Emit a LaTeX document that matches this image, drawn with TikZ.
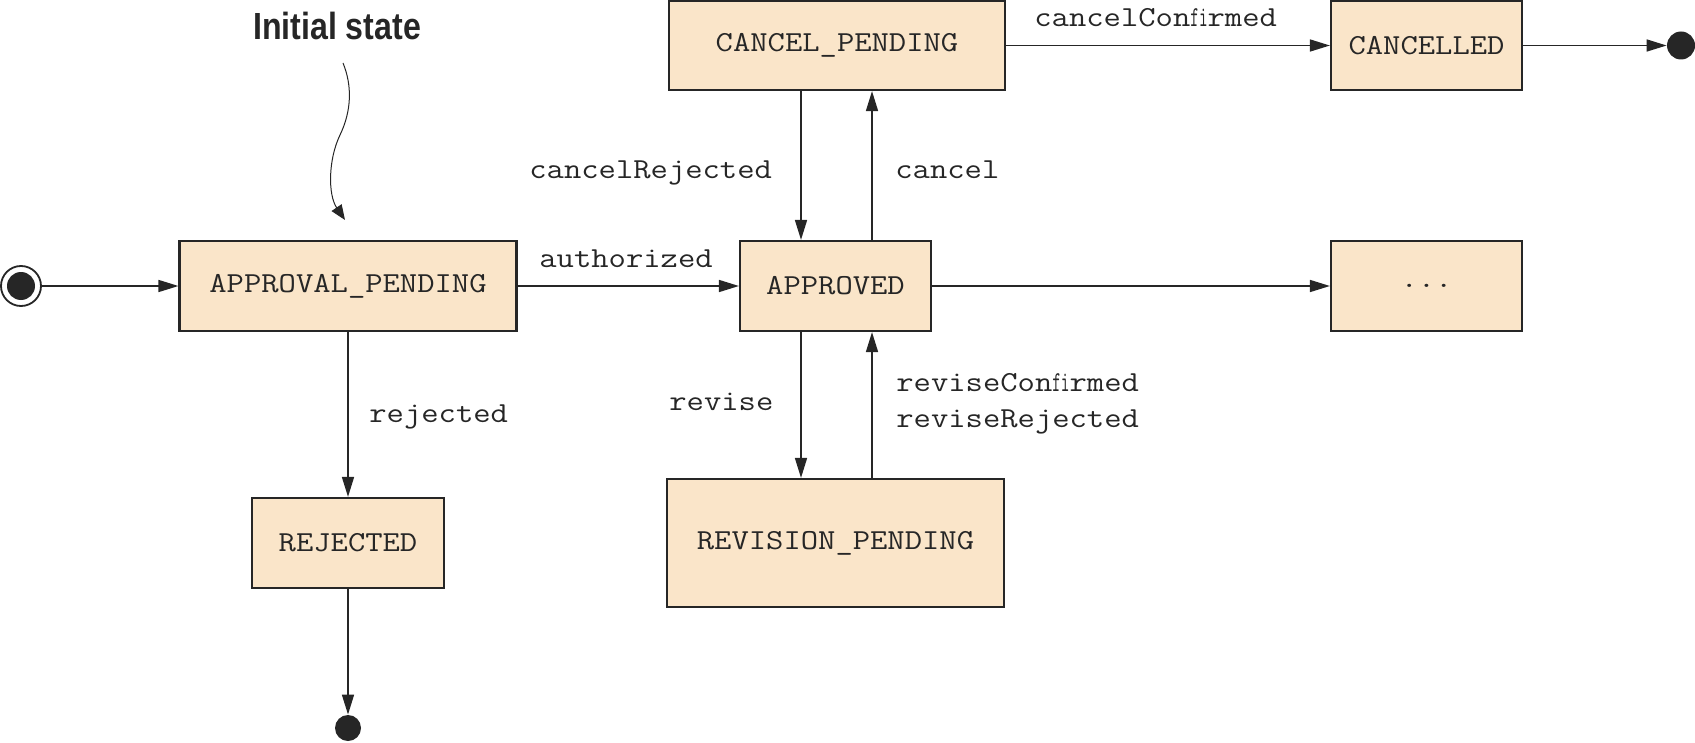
\documentclass[tikz,border=0pt]{standalone}
\usepackage{fontspec}
\newfontfamily\headfont{Liberation Sans}
\usetikzlibrary{arrows.meta,calc}
\definecolor{statefill}{HTML}{FAE5C9}
\definecolor{ink}{HTML}{262626}
% typewriter text, widened to the spacing of the state names
\newcommand\cw[1]{\scalebox{1.16}[1]{#1}}
% "fi" squeezed into a single typewriter cell
\newcommand\filig{\makebox[\fontcharwd\font`\a][c]{\scalebox{0.5}[1]{fi}}}
\begin{document}
\begin{tikzpicture}[x=0.5pt,y=-0.5pt,
  state/.style 2 args={draw=ink, line width=1.1pt, fill=statefill, inner sep=0pt,
    minimum width=#1*0.5pt, minimum height=#2*0.5pt,
    font=\ttfamily\fontsize{14.5}{16}\selectfont, text=ink},
  trans/.style={draw=ink, line width=0.8pt, -{Triangle[length=10pt,width=6pt]}},
  lbl/.style={font=\ttfamily\fontsize{14.5}{18}\selectfont, text=ink, inner sep=0pt, anchor=base west},
  endpt/.style={circle, fill=ink, inner sep=0pt, minimum size=#1*0.5pt},
]
\useasboundingbox (0,0) rectangle (1695,743);

% states
\node[state={337}{90}] (AP)   at (348,286) {\cw{APPROVAL\_PENDING}};
\node[state={191}{90}] (APP)  at (835.5,286) {\cw{APPROVED}};
\node[state={336}{89}] (CP)   at (837,45.5)  {\cw{CANCEL\_PENDING}};
\node[state={191}{89}] (CAN)  at (1426.5,45.5) {\cw{CANCELLED}};
\node[state={191}{90}] (DOTS) at (1426.5,286) {\cw{...}};
\node[state={192}{90}] (REJ)  at (348,543) {\cw{REJECTED}};
\node[state={337}{128}] (RP)  at (835.5,543) {\cw{REVISION\_PENDING}};

% pseudostates
\node[circle, draw=ink, line width=0.9pt, fill=white, inner sep=0pt, minimum size=20pt] (init) at (21,286) {};
\fill[ink] (init.center) circle (7pt);
\node[endpt=26] (end1) at (348,728) {};
\node[endpt=28] (end2) at (1681,45.5) {};

% transitions
\draw[trans] (init) -- (AP);
\draw[trans] (AP) -- (APP);
\draw[trans] (APP) -- (DOTS);
\draw[trans] (CP) -- (CAN);
\draw[trans] (CAN) -- (end2);
\draw[trans] (AP.south) -- (AP.south |- REJ.north);
\draw[trans] (REJ.south) -- (REJ.south |- end1.north);

\coordinate (xl) at (801,0);
\coordinate (xr) at (872,0);
\draw[trans] (CP.south -| xl) -- (APP.north -| xl);
\draw[trans] (APP.north -| xr) -- (CP.south -| xr);
\draw[trans] (APP.south -| xl) -- (RP.north -| xl);
\draw[trans] (RP.north -| xr) -- (APP.south -| xr);

% transition labels
\node[lbl] (lcc)  at (1034,27)  {\cw{cancelCon\filig rmed}};
\node[lbl] (lcr)  at (529,179)  {\cw{cancelRejected}};
\node[lbl] (lc)   at (895,179)  {\cw{cancel}};
\node[lbl] (lau)  at (539,267)  {\cw{authorized}};
\node[lbl] (lrj)  at (369,422)  {\cw{rejected}};
\node[lbl] (lrv)  at (669,410)  {\cw{revise}};
\node[lbl] (lrc)  at (896,391)  {\cw{reviseCon\filig rmed}};
\node[lbl] (lrr)  at (896,427)  {\cw{reviseRejected}};

% annotation
\node[font=\headfont\bfseries\fontsize{18.9}{20}\selectfont, text=ink, inner sep=0pt, anchor=base]
  (note) at (337,40) {\scalebox{0.85}[1]{Initial state}};
\coordinate (w0) at (343,63);
\coordinate (w1) at (340,135);
\coordinate (w2) at (345,220);
\draw[ink, line width=0.5pt, -{Triangle[length=7.5pt,width=6pt]}]
  (w0) .. controls (352,85) and (352,110) .. (w1)
       .. controls (328,160) and (328,195) .. (w2);
\end{tikzpicture}
\end{document}
